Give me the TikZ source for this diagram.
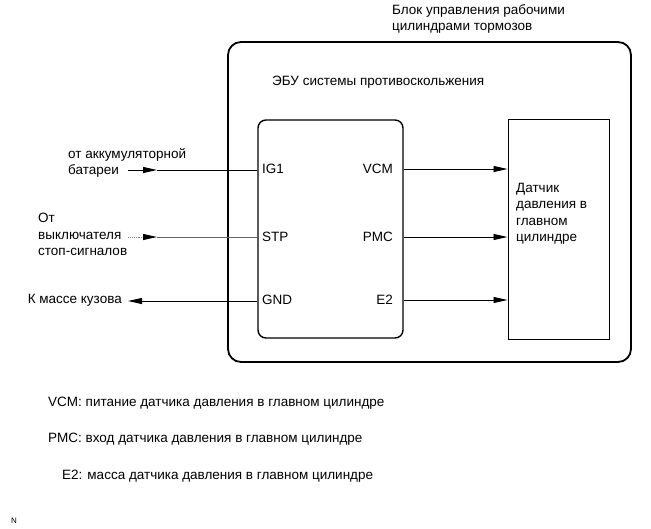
\documentclass[tikz,border=0pt]{standalone}
\usepackage{fontspec}
\setmainfont{Liberation Sans}
\usetikzlibrary{arrows.meta}

\tikzset{
  lbl/.style={inner sep=0pt, font=\fontsize{13.5}{16.5}\selectfont, align=left},
  wire/.style={line width=0.9pt},
  tip/.style={-{Triangle[length=14pt,width=6pt]}},
}

\begin{document}
\begin{tikzpicture}[%
      x=1pt, y=-1pt,
      ]
      \useasboundingbox (0,0) rectangle (651,529);
      
      % blocks
      \draw [line width=1.8pt, rounded corners=13pt] (228,42) rectangle (631,362);
      \node [draw, line width=1.4pt, rounded corners=8pt, minimum width=145pt, minimum height=218pt, inner sep=0pt] (ecu) at (330.5,229) {};
      \node [draw, line width=1pt, minimum width=101pt, minimum height=220pt, inner sep=0pt] (sensor) at (558.5,230) {};
      
      \node [lbl, anchor=north west] (unit) at (392,4) {Блок управления рабочими\\цилиндрами тормозов};
      \node [lbl, anchor=west] (ecutitle) at (272,82) {ЭБУ системы противоскольжения};
      \node [lbl, anchor=north west] (senstext) at (516,183) {Датчик\\давления в\\главном\\цилиндре};
      
      % pins
      \node [lbl, anchor=west] (ig1) at (262,169) {IG1};
      \node [lbl, anchor=west] (stp) at (262,237) {STP};
      \node [lbl, anchor=west] (gnd) at (262,300) {GND};
      \node [lbl, anchor=east] (vcm) at (393,169) {VCM};
      \node [lbl, anchor=east] (pmc) at (393,237) {PMC};
      \node [lbl, anchor=east] (e2) at (393,300) {E2};
      
      % outside ends
      \node [lbl, anchor=north west] (batt) at (68,148) {от аккумуляторной\\батареи};
      \node [lbl, anchor=north west] (stopsw) at (38,213) {От\\выключателя\\стоп-сигналов};
      \node [lbl, anchor=east] (body) at (122,300) {К массе кузова};
      \coordinate (b0) at (128,170);
      \coordinate (b1) at (157,170);
      \coordinate (s0) at (128,237);
      \coordinate (s1) at (157,237);
      \coordinate (g0) at (128,301);
      
      \draw [wire, tip] (b0) -- (b1);
      \draw [wire] (b1) -- (ecu.west |- b1);
      \draw [wire, gray, densely dotted] (s0) -- (143,237);
      \draw [wire, tip] (143,237) -- (s1);
      \draw [wire, gray!80!black] (s1) -- (ecu.west |- s1);
      \draw [wire, tip] (ecu.west |- g0) -- (g0);
      
      \draw [wire, tip] (ecu.east |- vcm) -- (sensor.west |- vcm);
      \draw [wire, tip] (ecu.east |- pmc) -- (sensor.west |- pmc);
      \draw [wire, tip] (ecu.east |- e2) -- (sensor.west |- e2);
      
      % legend
      \node [lbl, anchor=west] (leg1) at (48,403) {VCM: питание датчика давления в главном цилиндре};
      \node [lbl, anchor=west] (leg2) at (48,439) {PMC: вход датчика давления в главном цилиндре};
      \node [lbl, anchor=west] (leg3) at (62,476) {E2: масса датчика давления в главном цилиндре};
      
      \node [inner sep=0pt, font=\fontsize{8}{9}\selectfont, anchor=west] (tag) at (11,521) {N};
      \end{tikzpicture}
\end{document}
